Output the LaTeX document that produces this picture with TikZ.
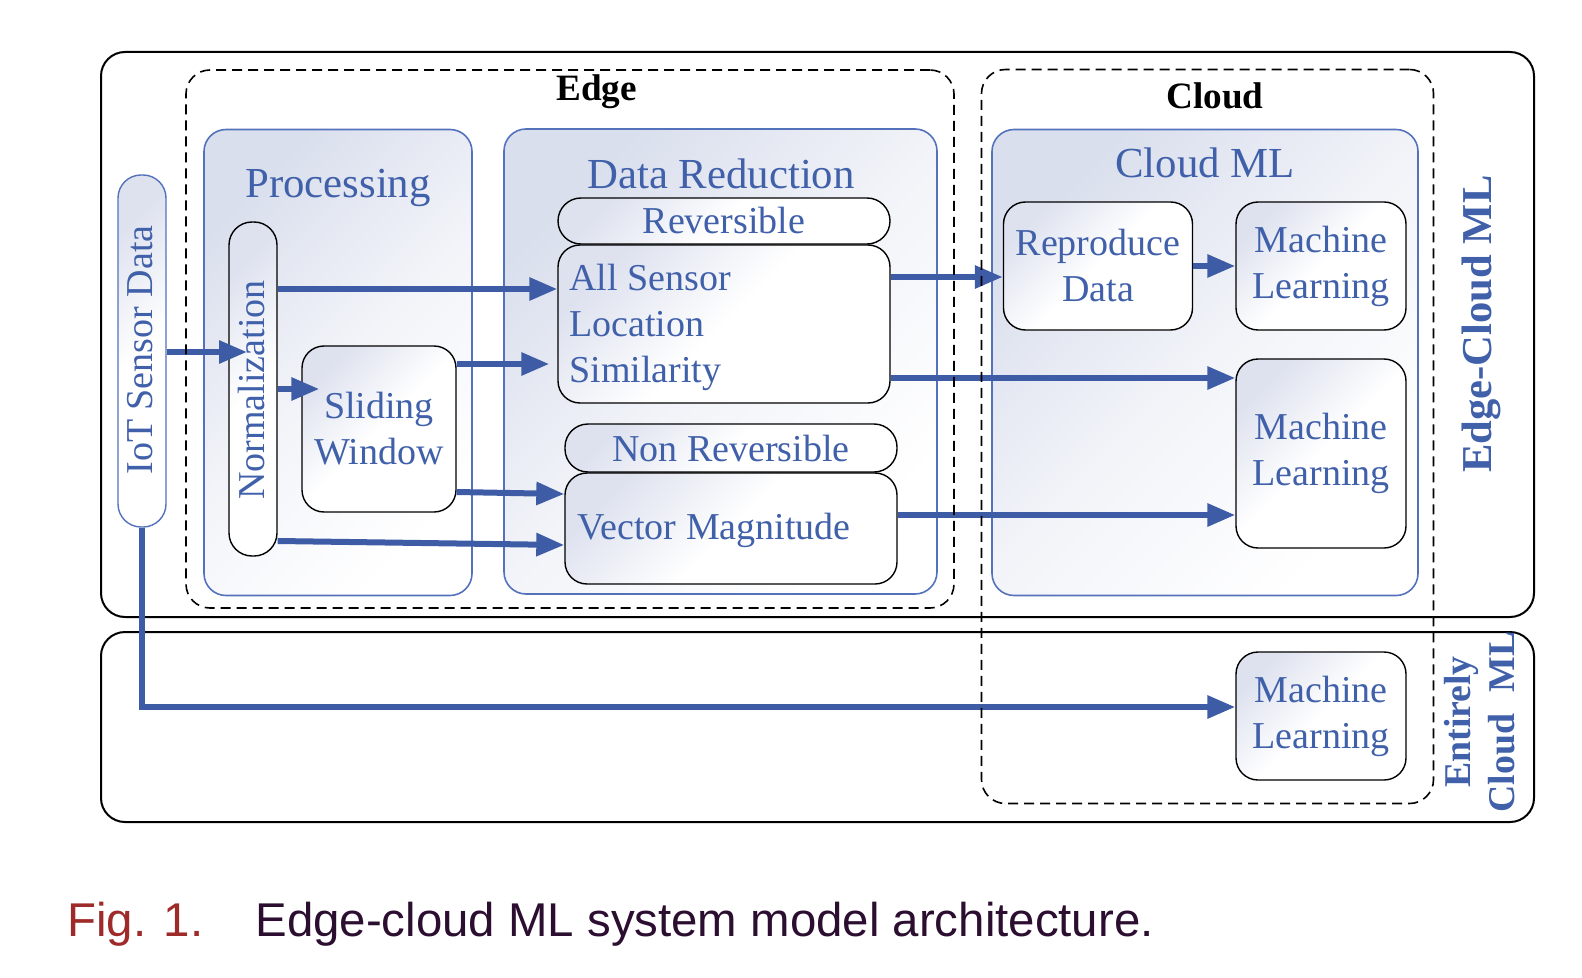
\documentclass[tikz,border=0pt]{standalone}
\usepackage{fontspec}
\setmainfont{Liberation Serif}
\newfontfamily\capfont{Liberation Sans}
\usetikzlibrary{arrows.meta}
\definecolor{txtblue}{RGB}{64,96,170}
\definecolor{arrblue}{RGB}{62,92,166}
\definecolor{boxblue}{RGB}{84,114,188}
\definecolor{gtop}{RGB}{218,223,237}
\definecolor{itop}{RGB}{222,226,239}
\definecolor{figred}{RGB}{158,42,42}
\definecolor{captxt}{RGB}{44,14,48}
\begin{document}
\begin{tikzpicture}[x=0.5pt,y=-0.5pt,
 outerbox/.style={draw=black,line width=1pt,rounded corners=12pt,inner sep=0pt},
 zonebox/.style={draw=black,line width=0.8pt,dash pattern=on 5pt off 3pt,rounded corners=12pt,inner sep=0pt},
 groupbox/.style={draw=boxblue,line width=0.8pt,rounded corners=11pt,top color=gtop,bottom color=white,middle color=gtop!35!white,shading angle=45,inner sep=0pt},
 procbox/.style={draw=black,line width=0.7pt,rounded corners=11pt,top color=itop,bottom color=white,middle color=white,shading angle=45,inner sep=0pt,text=txtblue,font=\fontsize{19pt}{23pt}\selectfont,align=center},
 pillbox/.style={procbox,rounded corners=11.5pt},
 grouptitle/.style={text=txtblue,font=\fontsize{21.4pt}{25pt}\selectfont,anchor=base,inner sep=0pt},
 zonetitle/.style={text=black,font=\bfseries\fontsize{18.6pt}{22pt}\selectfont,anchor=base,inner sep=0pt},
 itext/.style={text=txtblue,font=\fontsize{19pt}{23pt}\selectfont,inner sep=0pt,align=left},
 vtext/.style={text=txtblue,font=\fontsize{19pt}{23pt}\selectfont,inner sep=0pt,rotate=90},
 sidelabel/.style={text=txtblue,inner sep=0pt,rotate=90,align=center},
 flow/.style={draw=arrblue,line width=3pt,-{Triangle[length=14pt,width=11pt]}},
]
\useasboundingbox (0,0) rectangle (1582,978);

% outer frames
\node[outerbox,minimum width=716.5pt,minimum height=282.5pt] (ecml) at (817.5,334.5) {};
\node[outerbox,minimum width=716.5pt,minimum height=95pt] (ecld) at (817.5,727) {};

% group boxes
\node[groupbox,minimum width=134pt,minimum height=233pt] (proc) at (338,362.5) {};
\node[groupbox,minimum width=216.5pt,minimum height=232.5pt] (dred) at (720.5,361.5) {};
\node[groupbox,minimum width=213pt,minimum height=233pt] (cml) at (1205,362.5) {};
\node[grouptitle] (proct) at (338,198) {Processing};
\node[grouptitle] (dredt) at (721,189) {Data Reduction};
\node[grouptitle] (cmlt) at (1205,178) {Cloud ML};

% processing
\node[pillbox,draw=boxblue,minimum width=24pt,minimum height=176pt] (iot) at (142,351) {};
\node[vtext] (iott) at (140,350) {IoT Sensor Data};
\node[pillbox,minimum width=24pt,minimum height=167pt] (norm) at (253,389) {};
\node[vtext] (normt) at (251.5,390) {Normalization};
\node[procbox,minimum width=77pt,minimum height=83pt] (sw) at (379,429) {Sliding\\Window};

% data reduction
\node[pillbox,minimum width=166pt,minimum height=23pt] (rev) at (724,221) {Reversible};
\node[procbox,minimum width=166pt,minimum height=79pt] (als) at (724,324) {};
\node[itext,anchor=west] (alst) at (569,327) {All Sensor\\Location\\Similarity};
\node[pillbox,minimum width=166pt,minimum height=24pt] (nrev) at (731,448) {Non Reversible};
\node[procbox,minimum width=166pt,minimum height=55.5pt] (vm) at (731,528.5) {};
\node[itext,anchor=base west] (vmt) at (577,539) {Vector Magnitude};

% cloud
\node[procbox,minimum width=94.5pt,minimum height=64pt] (rep) at (1098,266) {Reproduce\\Data};
\node[procbox,minimum width=85pt,minimum height=64pt] (mla) at (1321,266) {Machine\\Learning};
\node[procbox,minimum width=85pt,minimum height=94.5pt] (mlb) at (1321,453.5) {Machine\\Learning};
\node[procbox,minimum width=85pt,minimum height=64pt] (mlc) at (1321,716) {Machine\\Learning};

% side labels
\node[sidelabel,font=\bfseries\fontsize{21.3pt}{25pt}\selectfont] (ecmlt) at (1481,324) {Edge-Cloud ML};
\node[sidelabel,font=\bfseries\fontsize{18.9pt}{22pt}\selectfont] (ecldt) at (1480,722) {Entirely\\Cloud\hspace{6pt} ML};

% connectors
\draw[flow] (iot.east |- 0,352) -- ([xshift=-3pt]norm.center |- 0,352);
\draw[flow] (norm.east |- 0,289) -- (als.west |- 0,289);
\draw[flow] (norm.east |- 0,389) -- ([xshift=9pt]sw.west |- 0,389);
\draw[flow] (sw.east |- 0,364) -- ([xshift=-4pt]als.west |- 0,364);
\draw[flow] (sw.east |- 0,492) -- (vm.west |- 0,494);
\draw[flow] (norm.east |- 0,541) -- (vm.west |- 0,545);
\draw[flow] (als.east |- 0,277) -- (rep.west |- 0,277);
\draw[flow] (als.east |- 0,378) -- (mlb.west |- 0,378);
\draw[flow] (vm.east |- 0,515) -- (mlb.west |- 0,515);
\draw[flow] (rep.east) -- (mla.west);
\draw[flow] (iot.south) |- ([yshift=4.5pt]mlc.west);

% zones
\node[zonebox,minimum width=384pt,minimum height=269pt] (edge) at (570,339) {};
\node[zonebox,minimum width=226pt,minimum height=367pt] (cloud) at (1207.5,436.5) {};
\node[zonetitle] (edget) at (596.5,101) {Edge};
\node[zonetitle] (cloudt) at (1215,109) {Cloud};

% caption
\node[anchor=base west,inner sep=0pt,text=figred,font=\capfont\fontsize{23.7pt}{28pt}\selectfont] (figl) at (67,936) {Fig. 1.};
\node[anchor=base west,inner sep=0pt,text=captxt,font=\capfont\fontsize{23.7pt}{28pt}\selectfont] (capt) at (255,936) {Edge-cloud ML system model architecture.};
\end{tikzpicture}
\end{document}
